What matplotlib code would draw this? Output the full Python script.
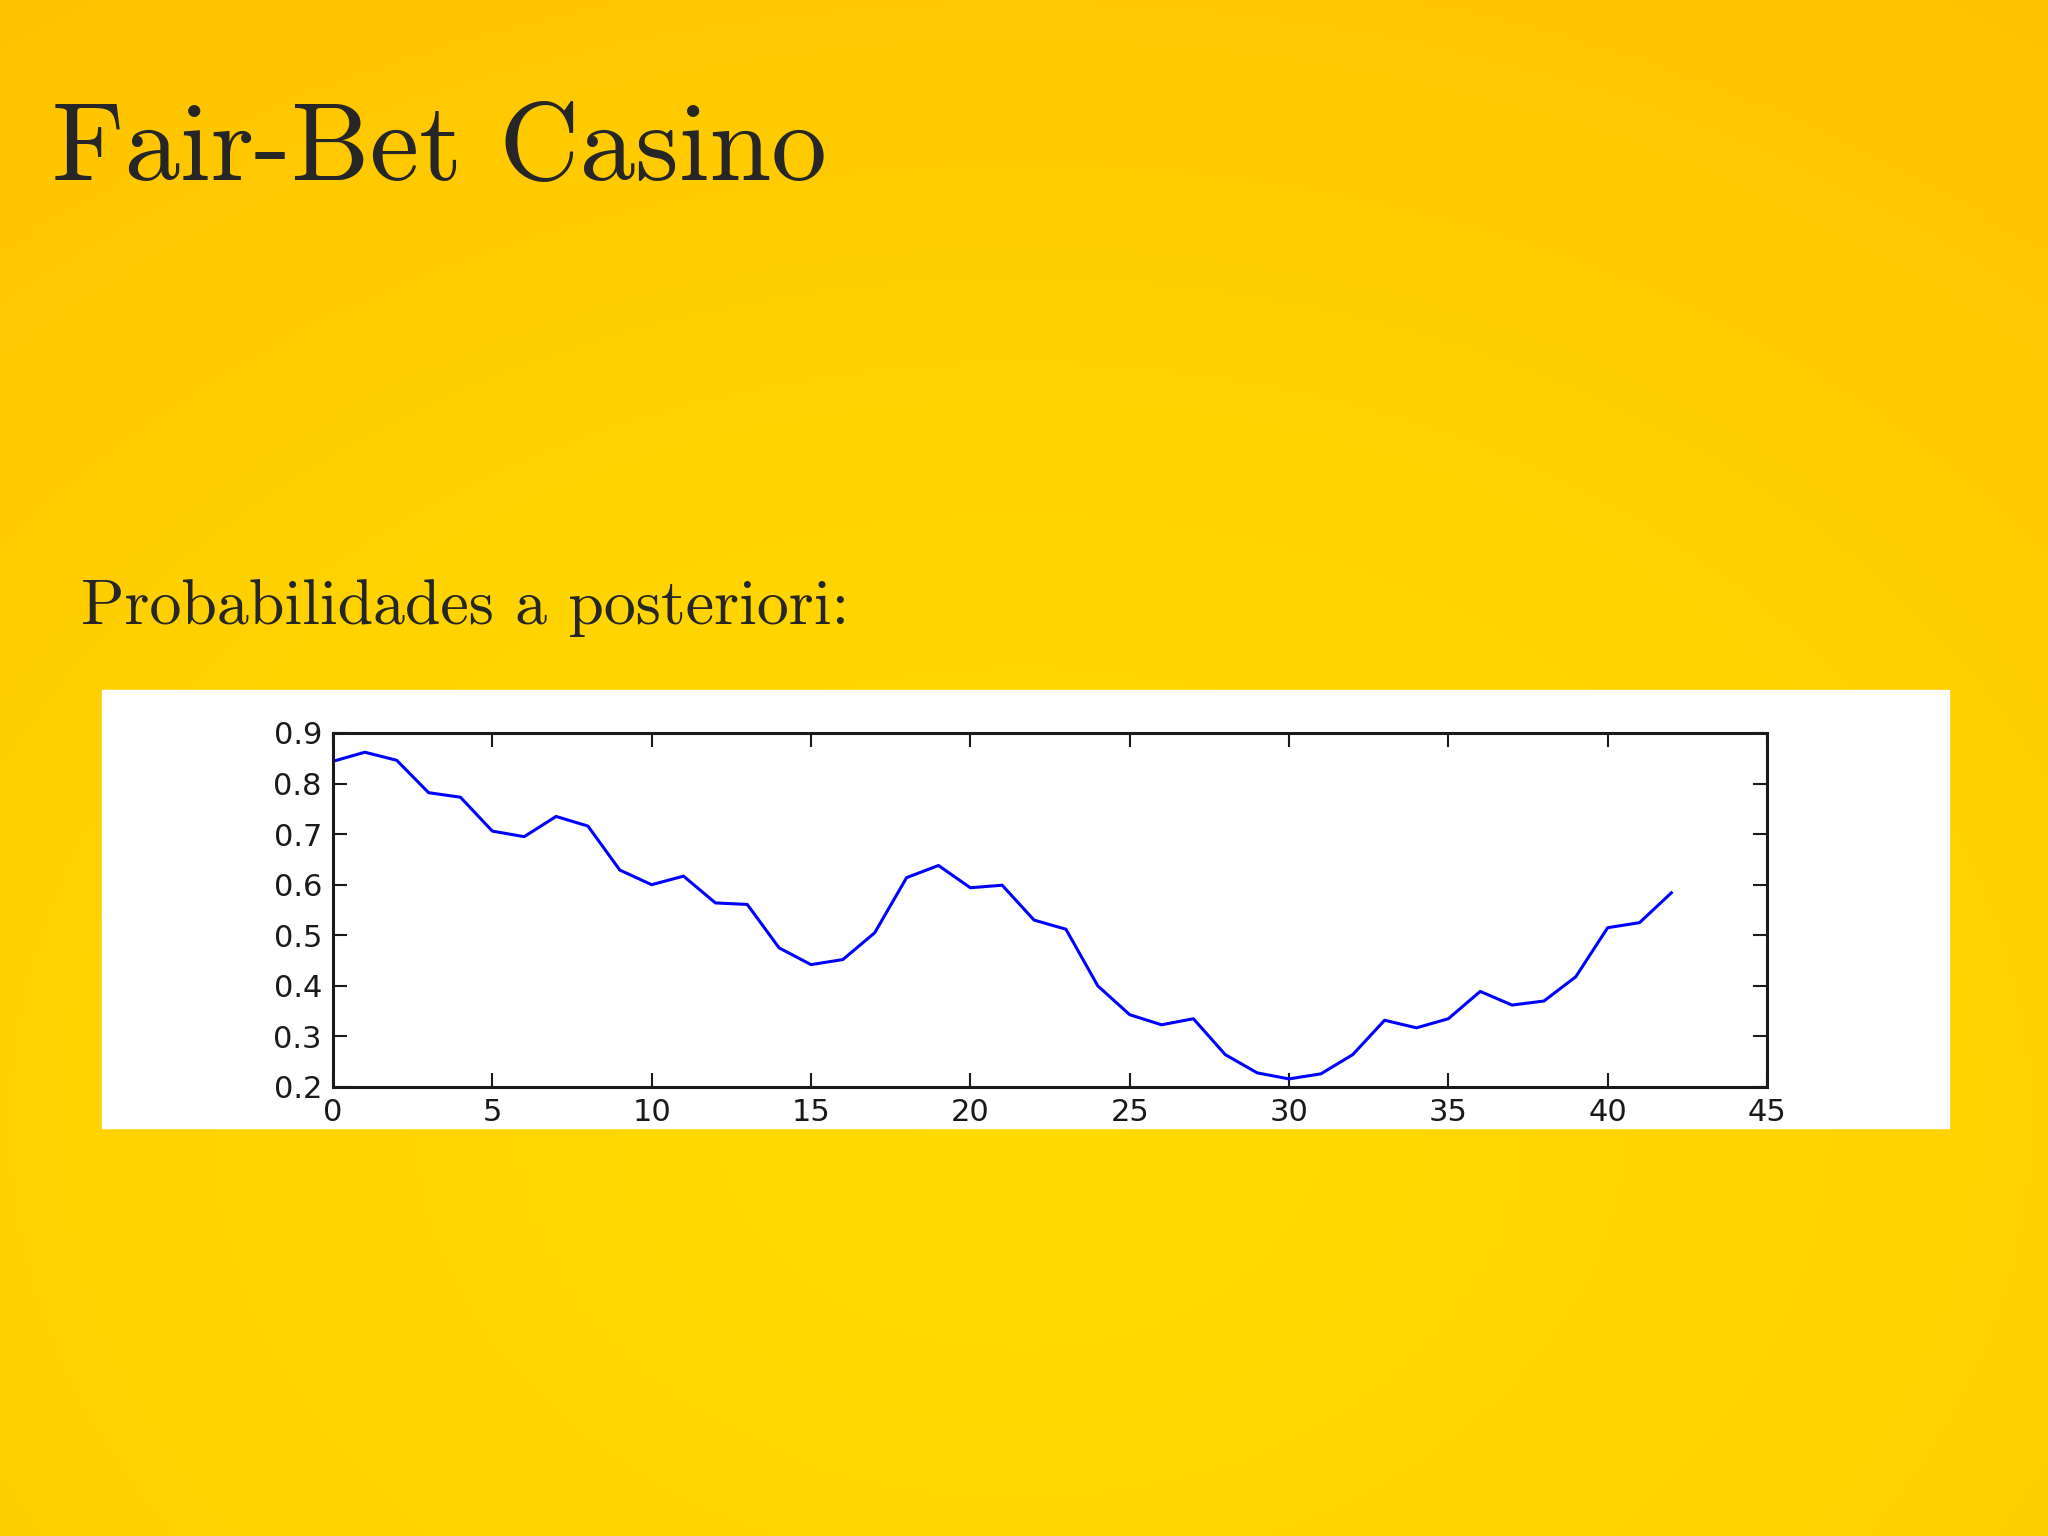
import numpy as np
import matplotlib
matplotlib.use("Agg")
import matplotlib.pyplot as plt
from matplotlib.colors import LinearSegmentedColormap

# posterior probability per toss
tirada = list(range(43))
prob = [0.844, 0.862, 0.846, 0.782, 0.773, 0.706, 0.695, 0.735, 0.716, 0.629,
        0.600, 0.617, 0.564, 0.561, 0.475, 0.442, 0.452, 0.505, 0.614, 0.638,
        0.594, 0.599, 0.530, 0.512, 0.400, 0.343, 0.323, 0.335, 0.264, 0.228,
        0.216, 0.226, 0.264, 0.332, 0.317, 0.335, 0.389, 0.362, 0.370, 0.418,
        0.515, 0.525, 0.584]

xticks = [0, 5, 10, 15, 20, 25, 30, 35, 40, 45]
yticks = [0.2, 0.3, 0.4, 0.5, 0.6, 0.7, 0.8, 0.9]

W, H = 2048, 1536
fig = plt.figure(figsize=(W / 100, H / 100), dpi=100)

# yellow radial background
bg = fig.add_axes([0, 0, 1, 1])
yy, xx = np.mgrid[0:H, 0:W]
r = np.sqrt(((xx - 1020) / W) ** 2 + ((yy - 1120) / H) ** 2)
r = r / r.max()
cmap = LinearSegmentedColormap.from_list("slide", ["#ffdc00", "#ffd300", "#ffc200"])
bg.imshow(r, cmap=cmap, aspect="auto", extent=[0, W, H, 0])
bg.set_xlim(0, W)
bg.set_ylim(H, 0)
bg.axis("off")

# white panel behind the chart
bg.add_patch(plt.Rectangle((102, 690), 1847, 438, color="white", zorder=2))

fig.text(52 / W, 1 - 180 / H, "Fair-Bet Casino", family="cmr10", fontsize=80,
         color="#262626", va="baseline", ha="left")
fig.text(81 / W, 1 - 624 / H, "Probabilidades a posteriori:", family="cmr10",
         fontsize=46, color="#262626", va="baseline", ha="left")

ax = fig.add_axes([333 / W, 1 - 1087 / H, (1767 - 333) / W, (1087 - 733) / H])
ax.plot(tirada, prob, color="blue", lw=2.2)
ax.set_xlim(0, 45)
ax.set_ylim(0.2, 0.9)
ax.set_xticks(xticks)
ax.set_yticks(yticks)
ax.set_yticklabels(["%.1f" % v for v in yticks])
ax.tick_params(direction="in", length=10, width=1.5, labelsize=22, pad=8,
               top=True, right=True, colors="#1a1a1a")
for s in ax.spines.values():
    s.set_linewidth(2.2)
    s.set_color("#1a1a1a")

fig.savefig("out.png", dpi=100)
